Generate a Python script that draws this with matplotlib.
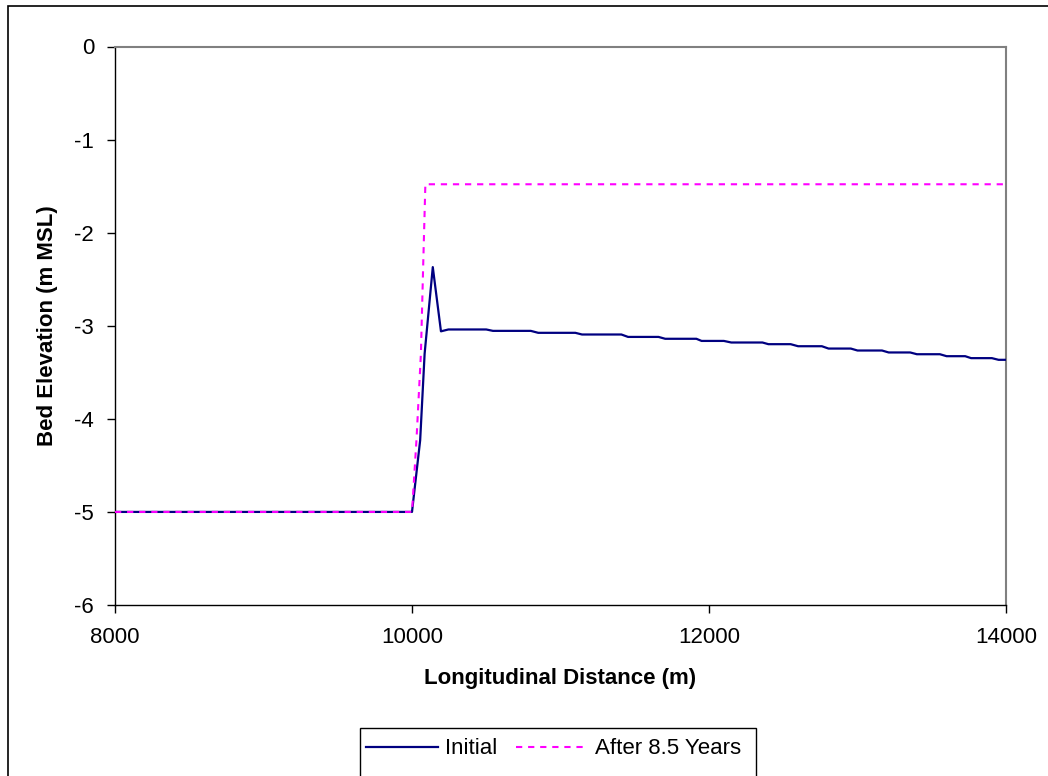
import matplotlib
matplotlib.use("Agg")
import matplotlib.pyplot as plt
from matplotlib.patches import Rectangle

plt.rcParams['font.family'] = ['Liberation Sans', 'DejaVu Sans']

# bed profile, initial and after 8.5 years
initial_x = [8000, 10000, 10055, 10085, 10140, 10195, 10245,
             10500, 10545, 10800, 10850, 11100, 11145, 11410, 11455,
             11660, 11705, 11915, 11950, 12100, 12150, 12360, 12400,
             12550, 12600, 12760, 12805, 12955, 13000, 13165, 13210,
             13355, 13400, 13555, 13600, 13725, 13765, 13905, 13950, 14000]
initial_y = [-5, -5, -4.23, -3.30, -2.37, -3.06, -3.04,
             -3.04, -3.055, -3.055, -3.076, -3.076, -3.094, -3.094, -3.12,
             -3.12, -3.14, -3.14, -3.163, -3.163, -3.18, -3.18, -3.198,
             -3.198, -3.22, -3.22, -3.245, -3.245, -3.266, -3.266, -3.287,
             -3.287, -3.306, -3.306, -3.327, -3.327, -3.348, -3.348, -3.366, -3.366]

after_x = [8000, 10000, 10030, 10060, 10075, 10090, 14000]
after_y = [-5, -5, -4.23, -3.30, -2.37, -1.48, -1.48]

x_ticks = [8000, 10000, 12000, 14000]
y_ticks = [0, -1, -2, -3, -4, -5, -6]

fs = 16

fig = plt.figure(figsize=(10.48, 7.76), dpi=100)
ax = fig.add_axes([115/1048, 1 - 605/776, (1006 - 115)/1048, (605 - 46.5)/776])

l1, = ax.plot(initial_x, initial_y, color='#000080', lw=1.6, label='Initial', zorder=3)
l2, = ax.plot(after_x, after_y, color='#FF00FF', lw=1.5, dashes=(3, 2.8),
              label='After 8.5 Years', zorder=4)

ax.set_xlim(8000, 14000)
ax.set_ylim(-6, 0)
ax.set_xticks(x_ticks)
ax.set_yticks(y_ticks)
ax.set_xticklabels([str(v) for v in x_ticks], fontsize=fs)
ax.set_yticklabels([str(v) for v in y_ticks], fontsize=fs)
ax.tick_params(axis='both', direction='out', length=6, width=1.0, color='black')
ax.tick_params(axis='x', pad=10)
ax.tick_params(axis='y', pad=9)

for s in ['left', 'bottom']:
    ax.spines[s].set_color('black')
    ax.spines[s].set_linewidth(1.0)
for s in ['top', 'right']:
    ax.spines[s].set_color('#808080')
    ax.spines[s].set_linewidth(1.5)

ax.set_xlabel('Longitudinal Distance (m)', fontsize=fs, fontweight='bold', labelpad=14)
ax.set_ylabel('Bed Elevation (m MSL)', fontsize=fs, fontweight='bold', labelpad=12)

# legend box runs off the bottom edge
fig.add_artist(Rectangle((360/1048, -0.05), (756 - 360)/1048, (1 - 728/776) + 0.05,
                         transform=fig.transFigure, fill=False, edgecolor='black', lw=1.0))
fig.legend(handles=[l1, l2], loc='center left', bbox_to_anchor=(366/1048, 1 - 749/776),
           ncol=2, frameon=False, fontsize=fs, handlelength=3.25, handletextpad=0.3,
           columnspacing=0.85, borderpad=0, borderaxespad=0)

# outer chart frame
fig.add_artist(Rectangle((8/1048, -0.05), 1.1, (1 - 6/776) + 0.05,
                         transform=fig.transFigure, fill=False, edgecolor='black', lw=1.2))

fig.savefig('out.png', dpi=100)
